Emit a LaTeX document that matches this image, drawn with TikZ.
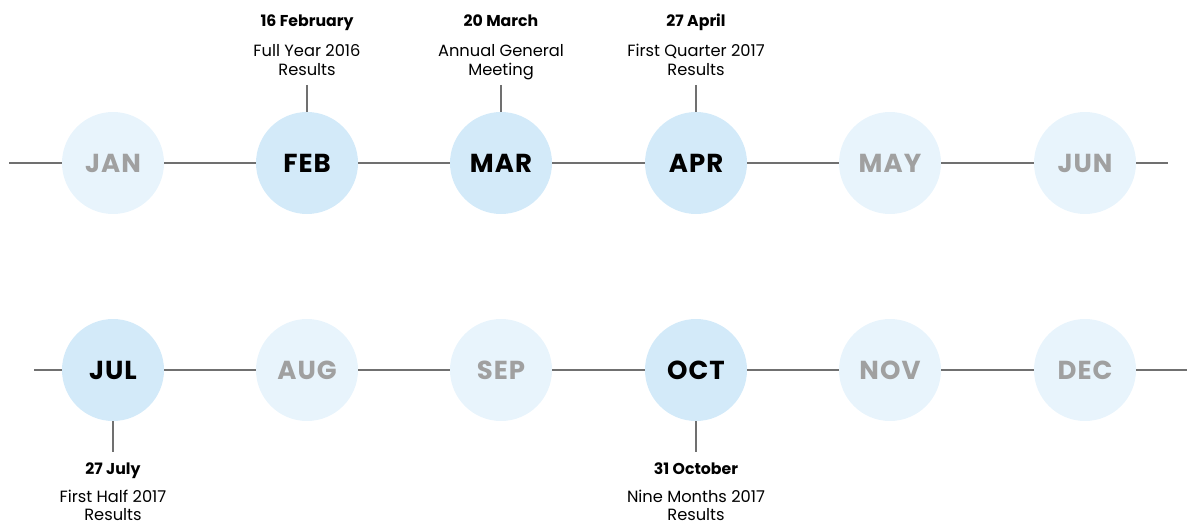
\documentclass[tikz,border=0pt]{standalone}
\usepackage{fontspec}
\setmainfont{Poppins}
\newfontfamily\monthfont[LetterSpace=4]{Poppins}
\definecolor{act}{HTML}{D3EAF9}
\definecolor{ina}{HTML}{E8F4FC}
\definecolor{gtxt}{HTML}{A0A0A0}
\definecolor{lne}{HTML}{707070}
\tikzset{
  month/.style={circle,minimum size=102*0.75pt,inner sep=0pt,font=\monthfont\fontsize{19.5}{22}\selectfont\bfseries},
  active/.style={month,fill=act,text=black},
  inactive/.style={month,fill=ina,text=gtxt},
  conn/.style={draw=lne,line width=1pt},
  datelbl/.style={font=\fontsize{11.8}{14}\selectfont\bfseries,text=black,inner sep=0pt,anchor=base},
  desc/.style={font=\fontsize{12.2}{15}\selectfont,text=black,inner sep=0pt,anchor=base},
}
\begin{document}
\begin{tikzpicture}[x=0.75pt,y=-0.75pt]
\useasboundingbox (0,0) rectangle (1187,524);
% row 1
\coordinate (r1s) at (9,163);
\coordinate (r1e) at (1168,163);
\node[inactive] (jan) at (113,163) {JAN};
\node[active] (feb) at (307,163) {FEB};
\node[active] (mar) at (501,163) {MAR};
\node[active] (apr) at (696,163) {APR};
\node[inactive] (may) at (890,163) {MAY};
\node[inactive] (jun) at (1085,163) {JUN};
\draw[conn] (r1s) -- (jan) (jan) -- (feb) (feb) -- (mar) (mar) -- (apr) (apr) -- (may) (may) -- (jun) (jun) -- (r1e);
% row 2
\coordinate (r2s) at (34,370);
\coordinate (r2e) at (1187,370);
\node[active] (jul) at (113,370) {JUL};
\node[inactive] (aug) at (307,370) {AUG};
\node[inactive] (sep) at (501,370) {SEP};
\node[active] (oct) at (696,370) {OCT};
\node[inactive] (nov) at (890,370) {NOV};
\node[inactive] (dec) at (1085,370) {DEC};
\draw[conn] (r2s) -- (jul) (jul) -- (aug) (aug) -- (sep) (sep) -- (oct) (oct) -- (nov) (nov) -- (dec) (dec) -- (r2e);
% top labels
\foreach \m/\x/\d/\a/\b in {feb/307/16 February/Full Year 2016/Results, mar/501/20 March/Annual General/Meeting, apr/696/27 April/First Quarter 2017/Results}{
  \node[datelbl] (\m d) at (\x,27) {\d};
  \node[desc] (\m a) at (\x,56.5) {\a};
  \node[desc] (\m b) at (\x,76) {\b};
  \coordinate (\m k) at (\x,85);
  \draw[conn] (\m k) -- (\m);
}
% bottom labels
\foreach \m/\x/\d/\a/\b in {jul/113/27 July/First Half 2017/Results, oct/696/31 October/Nine Months 2017/Results}{
  \node[datelbl] (\m d) at (\x,474) {\d};
  \node[desc] (\m a) at (\x,502) {\a};
  \node[desc] (\m b) at (\x,520.5) {\b};
  \coordinate (\m k) at (\x,452);
  \draw[conn] (\m) -- (\m k);
}
\end{tikzpicture}
\end{document}
